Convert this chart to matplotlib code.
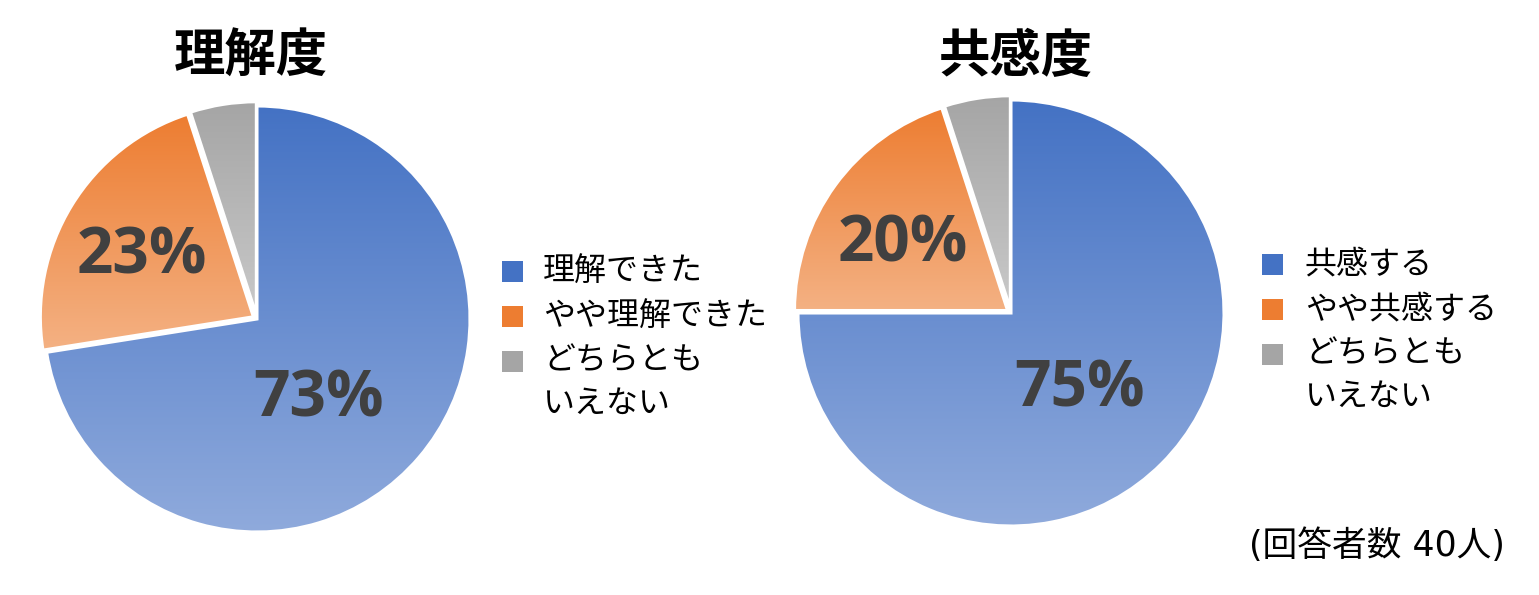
import numpy as np
import matplotlib
matplotlib.use('Agg')
import matplotlib.pyplot as plt
from matplotlib.colors import LinearSegmentedColormap
from matplotlib.patches import Rectangle

plt.rcParams['font.family'] = ['Noto Sans CJK JP', 'DejaVu Sans']

# データ (回答者数 40人)
titles = ['理解度', '共感度']
labels_left = ['理解できた', 'やや理解できた', 'どちらとも\nいえない']
labels_right = ['共感する', 'やや共感する', 'どちらとも\nいえない']
counts_left = [29, 9, 2]
counts_right = [30, 8, 2]
note = '(回答者数 40人)'

# グラデーション (上 -> 下)
top_colors = ['#4472C4', '#ED7D31', '#A5A5A5']
bottom_colors = ['#8FAADC', '#F4B183', '#C9C9C9']

W, H = 1539, 595
R = 213  # 円の半径 (px)

fig = plt.figure(figsize=(W / 100, H / 100), dpi=100)


def draw_pie(cx, cy, counts, title, title_x, labels, pct_pos, sq_x, txt_x, row_y):
    # 円グラフ用の軸 (中心 cx, cy はピクセル, 上から)
    ax = fig.add_axes([(cx - 1.05 * R) / W, (H - cy - 1.05 * R) / H,
                       2.1 * R / W, 2.1 * R / H])
    wedges, _ = ax.pie(counts, startangle=90, counterclock=False,
                       explode=[0, 0.02, 0.02],
                       wedgeprops=dict(edgecolor='white', linewidth=2.2))

    # 各扇形を縦グラデーションで塗る
    for w, c0, c1 in zip(wedges, top_colors, bottom_colors):
        ext = w.get_path().get_extents()
        cmap = LinearSegmentedColormap.from_list('g', [c0, c1])
        im = ax.imshow(np.linspace(0, 1, 256).reshape(-1, 1), cmap=cmap,
                       extent=(ext.x0, ext.x1, ext.y0, ext.y1),
                       origin='upper', aspect='auto', zorder=1)
        im.set_clip_path(w)
        w.set_facecolor('none')
        w.set_zorder(2)

    ax.set_xlim(-1.05, 1.05)
    ax.set_ylim(-1.05, 1.05)
    ax.set_aspect('equal')
    ax.axis('off')

    # パーセント表示 (大きい2つだけ)
    total = sum(counts)
    for v, (px, py) in zip(counts[:2], pct_pos):
        p = int(v * 100 / total + 0.5)
        ax.text(px, py, f'{p}%', ha='center', va='center', fontsize=46,
                fontweight='bold', family=['Open Sans', 'DejaVu Sans'],
                color='#404040', zorder=3)

    # タイトル
    fig.text(title_x / W, 1 - 56 / H, title, ha='center', va='center',
             fontsize=37, fontweight='bold')

    # 凡例 (手書き)
    gap = 45
    for i, lab in enumerate(labels):
        y = row_y + i * gap
        fig.patches.append(Rectangle(((sq_x - 10.5) / W, 1 - (y + 10.5) / H),
                                     21 / W, 21 / H, transform=fig.transFigure,
                                     facecolor=top_colors[i], edgecolor='none',
                                     figure=fig))
        for j, line in enumerate(lab.split('\n')):
            fig.text(txt_x / W, 1 - (y + j * 43) / H, line, ha='left',
                     va='center', fontsize=23)


draw_pie(257, 319, counts_left, titles[0], 251, labels_left,
         [(0.29, -0.38), (-0.54, 0.29)], 512, 543, 271)
draw_pie(1011, 313, counts_right, titles[1], 1016, labels_right,
         [(0.32, -0.36), (-0.51, 0.32)], 1272, 1305, 264)

fig.text(1377 / W, 1 - 546 / H, note, ha='center', va='center', fontsize=25,
         family=['DejaVu Sans', 'Noto Sans CJK JP'])

plt.savefig('out.png', dpi=100)
